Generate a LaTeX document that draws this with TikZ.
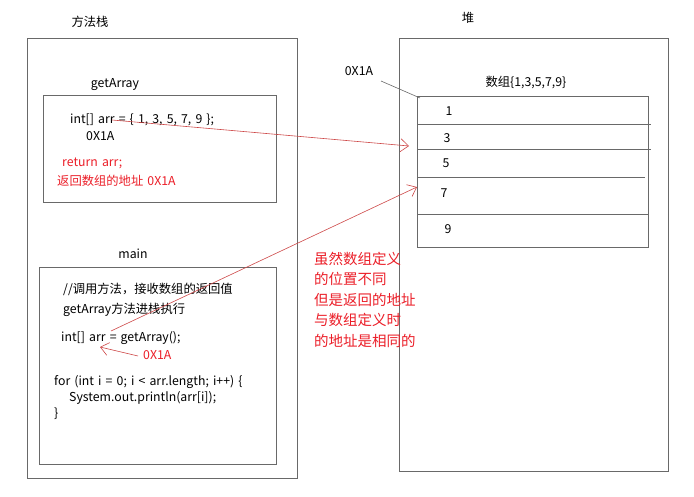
\documentclass[tikz,border=0pt]{standalone}
\usepackage{fontspec}
\setmainfont[WordSpace=1.5]{Noto Sans CJK SC}
\usepackage{xcolor}
\usepackage{tikz}
\usetikzlibrary{arrows.meta, positioning}
\definecolor{BoxGray}{RGB}{105, 105, 105}
\definecolor{NoteRed}{RGB}{235, 30, 40}
\definecolor{LinkRed}{RGB}{205, 70, 70}

\begin{document}
\begin{tikzpicture}[x=1pt, y=-1pt, font=\fontsize{12.3}{14}\selectfont,
    box/.style={draw=BoxGray, line width=0.9pt},
    code/.style={anchor=west, inner sep=0pt},
    link/.style={LinkRed, line width=0.6pt, -{Straight Barb[length=8pt, width=13pt]}}]
    \useasboundingbox (0,0) rectangle (694,497);

    % 方法栈
    \node (stacklbl) at (90,22) {方法栈};
    \draw[box] (27,38) rectangle (297,478);

    % getArray 方法
    \node (getlbl) at (115,85) {getArray};
    \draw[box] (43,95) rectangle (276,202);
    \node[code] (defarr) at (70,120) {int[] arr = \{ 1, 3, 5, 7, 9 \};};
    \node[code] (defaddr) at (86,136) {0X1A};
    \node[code, NoteRed] (ret) at (62,163) {return arr;};
    \node[code, NoteRed] (retaddr) at (57,181) {返回数组的地址 0X1A};

    % main 方法
    \node (mainlbl) at (133,254) {main};
    \draw[box] (39,267) rectangle (276,464);
    \node[code] (cmt) at (63,289) {//调用方法，接收数组的返回值};
    \node[code] (push) at (63,310) {getArray方法进栈执行};
    \node[code] (callarr) at (61,338) {int[] arr = getArray();};
    \node[code, NoteRed] (calladdr) at (143,355) {0X1A};
    \node[code] (loop) at (54,382) {for (int i = 0; i < arr.length; i++) \{};
    \node[code] (print) at (69,398) {System.out.println(arr[i]);};
    \node[code] (close) at (54,414) {\}};

    % 堆
    \node (heaplbl) at (468,18) {堆};
    \draw[box] (399,38) rectangle (668,471);
    \node (heapaddr) at (359,71) {0X1A};
    \node (arrlbl) at (526,82) {数组\{1,3,5,7,9\}};
    \draw[box] (417,96) rectangle (648,247);
    \draw[box] (417,124) -- (651,124);
    \draw[box] (417,149) -- (651,149);
    \draw[box] (417,177) -- (645,177);
    \draw[box] (417,214) -- (648,214);
    \node (c1) at (449,111) {1};
    \node (c3) at (447,138) {3};
    \node (c5) at (446,163) {5};
    \node (c7) at (444,193) {7};
    \node (c9) at (448,229) {9};
    \coordinate (arrtop) at (420,98);
    \coordinate (addrfoot) at (381,81);
    \draw[BoxGray, line width=0.6pt] (addrfoot) -- (arrtop);

    % 地址连线
    \coordinate (hit3) at (409,146);
    \coordinate (hit7) at (417,187);
    \coordinate (from1) at (112,120);
    \coordinate (from2) at (111,331);
    \draw[link] (from1) -- (hit3);
    \draw[link] (from2) -- (hit7);
    \draw[link] (calladdr.west) ++(-5,1) -- (100,347);

    % 说明
    \node[NoteRed, anchor=north west, align=left, inner sep=0pt,
          font=\fontsize{14.5}{20.5}\selectfont] (note) at (314,252)
        {虽然数组定义\\的位置不同\\但是返回的地址\\与数组定义时\\的地址是相同的};
\end{tikzpicture}
\end{document}
